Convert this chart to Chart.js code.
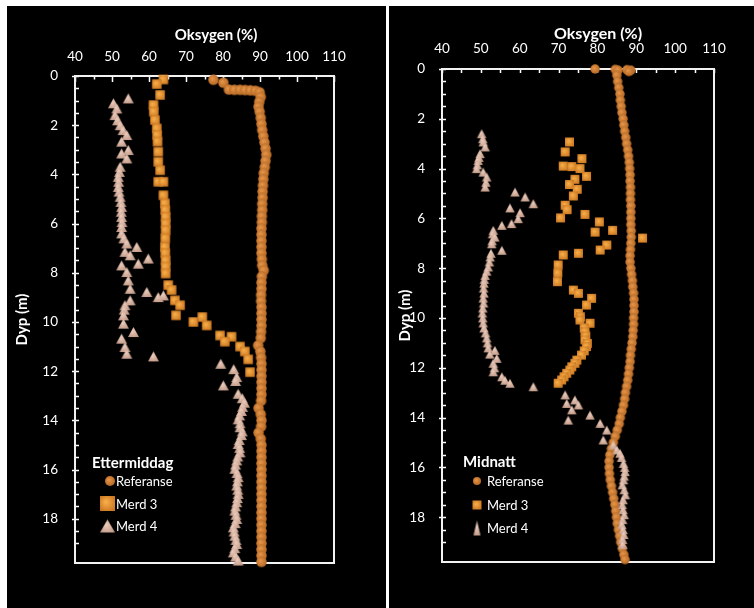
<!DOCTYPE html>
<html>
<head>
<meta charset="utf-8">
<script src="https://cdn.jsdelivr.net/npm/chart.js@4.4.1/dist/chart.umd.min.js"></script>
<style>
  html, body { margin: 0; padding: 0; background: #fff; }
  body { width: 754px; height: 608px; position: relative; overflow: hidden; }
  .panel { position: absolute; top: 6px; height: 602px; background: #000; }
  .panel canvas { display: block; }
  #left { left: 7px; width: 379px; }
  #right { left: 389px; width: 365px; }
</style>
</head>
<body>
<div class="panel" id="left"><canvas id="chartLeft" width="379" height="602"></canvas></div>
<div class="panel" id="right"><canvas id="chartRight" width="365" height="602"></canvas></div>
<script>
// Oxygen profiles, each point is [dyp (m), oksygen (%)]

// Ettermiddag
const ettRef = [
  [0.15,77.4],[0.27,80.1],[0.55,81.6],[0.56,83.1],[0.56,84.6],[0.57,86.0],[0.58,87.4],[0.6,88.8],[0.66,89.9],
  [0.85,90.2],[1.05,89.8],[1.25,89.6],[1.45,89.9],[1.7,90.2],[1.95,90.4],[2.2,90.6],[2.45,90.9],[2.7,91.2],
  [2.95,91.5],[3.2,91.7],[3.45,91.5],[3.7,91.3],[3.95,91.0],[4.2,90.9],[4.45,90.8],[4.7,90.7],[4.95,90.7],
  [5.2,90.6],[5.45,90.6],[5.7,90.5],[5.95,90.5],[6.2,90.4],[6.45,90.4],[6.7,90.4],[6.95,90.4],[7.2,90.4],
  [7.45,90.5],[7.7,90.6],[7.9,91.0],[8.15,90.5],[8.4,90.4],[8.65,90.4],[8.9,90.3],[9.15,90.3],[9.4,90.4],
  [9.65,90.4],[9.9,90.4],[10.15,90.4],[10.4,90.3],[10.65,90.2],[10.95,89.5],[11.2,90.1],[11.45,90.3],
  [11.7,90.4],[11.95,90.4],[12.2,90.4],[12.45,90.4],[12.7,90.4],[12.95,90.4],[13.2,90.3],[13.5,89.6],
  [13.75,90.2],[14.0,90.4],[14.25,90.3],[14.5,89.6],[14.75,90.2],[15.0,90.4],[15.25,90.4],[15.5,90.4],
  [15.75,90.4],[16.0,90.4],[16.25,90.4],[16.5,90.4],[16.75,90.4],[17.0,90.4],[17.25,90.4],[17.5,90.4],
  [17.75,90.4],[18.0,90.4],[18.25,90.4],[18.5,90.4],[18.75,90.4],[19.0,90.4],[19.25,90.4],[19.5,90.4],[19.75,90.4]
];
const ettM3 = [
  [0.14,63.9],[0.33,62.1],[0.77,63.0],[1.18,61.2],[1.45,61.3],[1.79,61.6],[2.13,62.1],[2.4,62.2],[2.67,62.3],
  [3.08,62.5],[3.49,62.5],[3.83,63.0],[4.3,62.5],[4.3,63.9],[4.85,63.9],[5.18,64.3],[5.45,64.4],[5.73,64.5],
  [6.0,64.5],[6.27,64.5],[6.6,64.4],[6.95,64.3],[7.2,64.4],[7.5,64.5],[7.75,64.5],[8.03,64.5],[8.5,65.2],
  [8.7,66.1],[9.12,67.0],[9.32,68.4],[9.73,67.3],[10.0,72.0],[9.8,74.4],[10.14,75.6],[10.55,79.2],[10.6,82.3],
  [10.8,80.5],[11.0,84.6],[11.2,85.9],[11.52,86.8],[12.04,87.3]
];
const ettM4 = [
  [0.91,54.4],[1.11,50.4],[1.32,51.3],[1.59,50.8],[1.8,51.5],[2.0,52.2],[2.2,53.0],[2.4,54.0],[2.67,52.6],
  [3.01,54.4],[3.15,52.6],[3.35,54.0],[3.69,52.2],[3.9,52.0],[4.1,51.7],[4.3,51.8],[4.51,51.7],[4.7,51.9],
  [4.91,52.2],[5.12,52.4],[5.32,52.6],[5.52,52.5],[5.73,52.6],[5.94,52.7],[6.14,52.6],[6.4,52.6],[6.6,53.2],
  [6.81,54.0],[6.95,56.7],[7.15,53.5],[7.29,54.9],[7.42,59.8],[7.63,57.1],[7.7,52.6],[7.97,54.0],[8.31,54.4],
  [8.65,54.9],[8.78,59.4],[8.92,63.9],[8.99,62.5],[9.12,54.9],[9.32,53.5],[9.5,53.3],[9.73,53.1],[10.07,53.1],
  [10.41,55.8],[10.68,52.6],[11.02,53.5],[11.29,54.0],[11.4,61.2],[11.7,79.4],[11.92,82.9],[12.24,83.7],
  [12.4,83.4],[12.58,80.1],[12.92,84.1],[13.1,85.2],[13.28,85.8],[13.45,85.3],[13.62,85.0],[13.8,84.5],
  [13.96,84.1],[14.12,84.6],[14.28,84.6],[14.45,85.2],[14.6,85.0],[14.8,84.4],[14.96,84.1],[15.12,84.5],
  [15.3,84.6],[15.47,84.0],[15.63,83.7],[15.8,83.4],[15.97,83.2],[16.14,83.8],[16.31,84.1],[16.48,83.9],
  [16.65,83.7],[16.82,84.0],[16.99,84.1],[17.16,83.9],[17.33,83.7],[17.5,83.4],[17.67,83.2],[17.84,83.5],
  [18.01,83.7],[18.18,83.3],[18.35,82.8],[18.52,83.0],[18.69,83.2],[18.86,83.5],[19.03,83.7],[19.2,83.2],
  [19.37,82.8],[19.54,83.4],[19.7,84.1]
];

// Midnatt
const midRef = [
  [0.0,79.4],[0.02,84.6],[0.05,85.3],[0.03,87.6],[0.05,88.6],[0.1,88.1],
  [0.25,85.0],[0.5,85.2],[0.75,85.5],[1.0,85.8],[1.25,85.9],[1.5,86.1],[1.75,86.3],[2.0,86.6],[2.25,86.8],
  [2.5,87.0],[2.75,87.3],[3.0,87.5],[3.25,87.8],[3.5,88.0],[3.75,88.2],[4.0,88.3],[4.25,88.4],[4.5,88.4],
  [4.75,88.5],[5.0,88.5],[5.25,88.5],[5.5,88.6],[5.75,88.6],[6.0,88.6],[6.25,88.6],[6.5,88.7],[6.75,88.7],
  [7.0,88.6],[7.25,88.5],[7.5,88.4],[7.75,88.4],[8.0,88.6],[8.25,88.8],[8.5,89.0],[8.75,89.1],[9.0,89.3],
  [9.25,89.4],[9.5,89.4],[9.75,89.4],[10.0,89.3],[10.25,89.3],[10.5,89.2],[10.75,89.1],[11.0,88.9],
  [11.25,88.7],[11.5,88.5],[11.75,88.4],[12.0,88.2],[12.25,88.0],[12.5,87.8],[12.75,87.5],[13.0,87.2],
  [13.25,87.0],[13.5,86.7],[13.75,86.3],[14.0,85.9],[14.25,85.6],[14.5,85.1],[14.75,84.6],[15.0,84.1],
  [15.25,83.6],[15.5,83.2],[15.75,83.0],[16.0,83.0],[16.25,83.1],[16.5,83.3],[16.75,83.6],[17.0,83.9],
  [17.25,84.2],[17.5,84.5],[17.75,84.7],[18.0,84.9],[18.25,85.1],[18.5,85.4],[18.75,85.7],[19.0,86.0],
  [19.25,86.4],[19.5,86.8],[19.7,87.1]
];
const midM3 = [
  [2.93,72.8],[3.33,71.7],[3.6,76.0],[3.9,71.2],[3.92,73.4],[4.0,75.5],[4.31,77.2],[4.43,74.2],[4.64,72.8],
  [4.83,74.8],[5.1,73.8],[5.47,71.7],[5.65,72.2],[5.84,76.8],[5.98,70.5],[6.14,80.5],[6.48,83.9],[6.55,79.4],
  [6.79,91.6],[7.07,82.4],[7.27,80.7],[7.4,75.1],[7.47,71.2],[7.87,69.9],[8.2,69.8],[8.54,69.7],[8.88,73.8],
  [9.01,75.1],[9.21,78.5],[9.48,77.2],[9.81,75.1],[9.95,75.6],[10.08,75.5],[10.21,78.1],[10.4,76.6],
  [10.55,76.8],[10.72,77.0],[10.88,76.8],[11.02,77.4],[11.15,77.2],[11.32,76.6],[11.49,75.9],[11.69,74.7],
  [11.82,74.2],[11.96,73.4],[12.09,72.9],[12.22,72.1],[12.36,71.4],[12.49,70.8],[12.62,69.9]
];
const midM4 = [
  [2.6,50.2],[2.8,50.5],[2.93,50.6],[3.13,51.1],[3.4,49.8],[3.55,49.5],[3.67,49.3],[3.85,49.1],[4.0,48.9],
  [4.14,50.6],[4.34,51.5],[4.55,51.3],[4.74,51.1],[4.94,58.8],[5.14,61.4],[5.41,63.5],[5.58,57.5],[5.77,60.1],
  [6.01,59.6],[6.21,57.9],[6.28,55.4],[6.48,53.2],[6.62,53.0],[6.75,53.6],[6.9,52.9],[7.02,52.8],[7.28,55.4],
  [7.4,52.6],[7.55,52.4],[7.75,52.2],[7.95,51.9],[8.12,51.5],[8.29,51.1],[8.45,50.9],[8.6,50.8],[8.8,50.7],
  [9.0,50.8],[9.2,50.6],[9.4,50.7],[9.6,50.5],[9.8,50.4],[10.0,50.5],[10.2,50.6],[10.4,50.8],[10.6,51.2],
  [10.8,51.5],[11.0,51.7],[11.2,51.9],[11.3,53.6],[11.45,52.3],[11.62,54.1],[11.82,53.2],[12.0,53.5],
  [12.16,53.2],[12.36,55.4],[12.5,56.2],[12.62,57.5],[12.76,63.5],[13.09,71.7],[13.29,74.2],[13.43,72.1],
  [13.49,75.1],[13.69,73.4],[13.9,78.1],[14.1,72.5],[14.23,80.7],[14.5,82.4],[14.9,81.5],[15.1,84.1],
  [15.3,85.0],[15.43,85.8],[15.6,86.2],[15.84,86.7],[16.0,87.0],[16.17,87.1],[16.35,86.9],[16.5,86.7],
  [16.7,86.4],[16.9,86.9],[17.1,87.2],[17.3,86.6],[17.5,86.4],[17.7,86.6],[17.9,86.9],[18.1,86.5],[18.3,86.3],
  [18.5,86.6],[18.7,86.8],[18.9,86.5],[19.1,86.5]
];

const xTicks = { min: 40, max: 110, step: 5, labelEvery: 10 };
const yTicks = { min: 0, max: 19.8, step: 0.5, labelEvery: 2 };

Chart.defaults.font.family = 'Lato, "Open Sans", sans-serif';
Chart.defaults.color = '#fff';

// shaded marker sprites with soft edges, used as point styles
function makeMarker(shape, w, h, light, dark) {
  const c = document.createElement('canvas');
  c.width = Math.ceil(w) + 4;
  c.height = Math.ceil(h) + 4;
  const g = c.getContext('2d');
  const cx = c.width / 2, cy = c.height / 2;
  const grad = g.createRadialGradient(cx - w * 0.12, cy - h * 0.12, 0, cx, cy, Math.max(w, h) * 0.7);
  grad.addColorStop(0, light);
  grad.addColorStop(1, dark);
  g.filter = 'blur(0.5px)';
  g.fillStyle = grad;
  g.beginPath();
  if (shape === 'circle') {
    g.arc(cx, cy, w / 2, 0, Math.PI * 2);
  } else if (shape === 'rect') {
    g.rect(cx - w / 2, cy - h / 2, w, h);
  } else {
    g.moveTo(cx, cy - h / 2);
    g.lineTo(cx + w / 2, cy + h / 2);
    g.lineTo(cx - w / 2, cy + h / 2);
    g.closePath();
  }
  g.fill();
  return c;
}

const COL = {
  ref: ['#e8984a', '#a65a1a'],
  m3: ['#fbb24a', '#c46e1c'],
  m4: ['#efcfbf', '#b48c7a']
};

// axis frame, inward tick marks, top axis caption and the legend box
const panelDecor = {
  id: 'panelDecor',
  beforeDatasetsDraw(chart, args, opts) {
    const { ctx, chartArea: a, scales } = chart;
    ctx.save();
    ctx.strokeStyle = '#fff';
    ctx.lineWidth = 1.5;
    ctx.beginPath();
    scales.x.ticks.forEach(t => {
      const px = Math.round(scales.x.getPixelForValue(t.value)) + 0.5;
      const len = t.value % xTicks.labelEvery === 0 ? opts.majorX : opts.minorX;
      ctx.moveTo(px, a.top);
      ctx.lineTo(px, a.top + len);
    });
    scales.y.ticks.forEach(t => {
      if (t.value > yTicks.max - 0.3) return;
      const py = Math.round(scales.y.getPixelForValue(t.value)) + 0.5;
      const major = t.value % yTicks.labelEvery === 0;
      ctx.moveTo(a.left - (major ? 3 : 0), py);
      ctx.lineTo(a.left + 4, py);
    });
    ctx.stroke();
    ctx.lineWidth = 2;
    ctx.strokeStyle = '#f2f2f2';
    ctx.strokeRect(a.left, a.top, a.right - a.left, a.bottom - a.top);

    ctx.fillStyle = '#fff';
    ctx.font = 'bold ' + opts.titleSize + 'px Lato';
    ctx.textAlign = 'center';
    ctx.textBaseline = 'middle';
    ctx.fillText('Oksygen (%)', opts.titleX, opts.titleY);
    ctx.restore();
  },
  afterDraw(chart, args, opts) {
    const { ctx, chartArea: a } = chart;
    const lg = opts.legend;
    ctx.save();
    ctx.fillStyle = '#fff';
    ctx.textBaseline = 'middle';
    ctx.textAlign = 'left';
    ctx.font = 'bold 15px Lato';
    ctx.fillText(lg.title, a.left + lg.titleDx, a.top + lg.titleDy);
    ctx.font = '13px Lato';
    lg.items.forEach(it => {
      const m = it.marker;
      ctx.drawImage(m, a.left + it.mx - m.width / 2, a.top + it.dy - m.height / 2);
      ctx.fillText(it.label, a.left + lg.textDx, a.top + it.dy + 1);
    });
    ctx.restore();
  }
};

function profileChart(id, title, series, markers, geom) {
  const names = ['Referanse', 'Merd 3', 'Merd 4'];
  const datasets = series.map((s, i) => ({
    label: names[i],
    data: s.map(p => ({ x: p[1], y: p[0] })),
    pointStyle: markers[i],
    pointRadius: 5,
    clip: false,
    order: 2 - i
  }));
  return new Chart(document.getElementById(id), {
    type: 'scatter',
    data: { datasets },
    plugins: [panelDecor],
    options: {
      responsive: false,
      animation: false,
      events: [],
      layout: { padding: { left: 0, top: 0, right: geom.padRight, bottom: geom.padBottom } },
      plugins: {
        legend: { display: false },
        tooltip: { enabled: false },
        panelDecor: {
          titleX: geom.titleX, titleY: geom.titleY, titleSize: geom.titleSize,
          majorX: geom.majorX, minorX: geom.minorX,
          legend: {
            title: title,
            titleDx: geom.legend.titleDx, titleDy: geom.legend.titleDy, textDx: geom.legend.textDx,
            items: names.map((n, i) => ({
              label: n, marker: geom.legend.markers[i],
              mx: geom.legend.markerDx[i], dy: geom.legend.dy[i]
            }))
          }
        }
      },
      scales: {
        x: {
          type: 'linear',
          position: 'top',
          min: xTicks.min,
          max: xTicks.max,
          grid: { display: false, drawTicks: false },
          border: { display: false },
          afterFit: s => { s.height = geom.top; },
          ticks: {
            stepSize: xTicks.step,
            autoSkip: false,
            maxRotation: 0,
            padding: geom.xPad,
            font: { size: 13.5 },
            callback: v => (v % xTicks.labelEvery === 0 ? String(v) : '')
          }
        },
        y: {
          type: 'linear',
          reverse: true,
          min: yTicks.min,
          max: yTicks.max,
          grid: { display: false, drawTicks: false },
          border: { display: false },
          afterFit: s => { s.width = geom.left; },
          title: {
            display: true,
            text: 'Dyp (m)',
            font: { size: 15, weight: 'bold' },
            padding: { top: geom.yTitlePad, bottom: 0 }
          },
          ticks: {
            stepSize: yTicks.step,
            autoSkip: false,
            padding: 17,
            font: { size: 13.5 },
            callback: v => (v % yTicks.labelEvery === 0 ? String(v) : '')
          }
        }
      }
    }
  });
}

profileChart('chartLeft', 'Ettermiddag', [ettRef, ettM3, ettM4], [
  makeMarker('circle', 10.5, 10.5, COL.ref[0], COL.ref[1]),
  makeMarker('rect', 9.5, 9.5, COL.m3[0], COL.m3[1]),
  makeMarker('tri', 11, 10, COL.m4[0], COL.m4[1])
], {
  left: 68, top: 70, padRight: 52, padBottom: 45,
  xPad: 11.5, yTitlePad: 6,
  titleX: 209, titleY: 29, titleSize: 15,
  majorX: 6, minorX: 3.5,
  legend: {
    titleDx: 17, titleDy: 387, textDx: 41,
    markerDx: [35, 32.5, 32.5], dy: [405, 427.5, 450],
    markers: [
      makeMarker('circle', 10, 10, COL.ref[0], COL.ref[1]),
      makeMarker('rect', 15, 15, COL.m3[0], COL.m3[1]),
      makeMarker('tri', 15, 13, COL.m4[0], COL.m4[1])
    ]
  }
});

profileChart('chartRight', 'Midnatt', [midRef, midM3, midM4], [
  makeMarker('circle', 9.5, 9.5, COL.ref[0], COL.ref[1]),
  makeMarker('rect', 9, 9, COL.m3[0], COL.m3[1]),
  makeMarker('tri', 9.5, 9, COL.m4[0], COL.m4[1])
], {
  left: 53, top: 63, padRight: 40, padBottom: 46,
  xPad: 12, yTitlePad: 7,
  titleX: 209, titleY: 27.5, titleSize: 16,
  majorX: 4, minorX: 4,
  legend: {
    titleDx: 21, titleDy: 393, textDx: 45,
    markerDx: [35, 35, 35], dy: [412, 436, 459],
    markers: [
      makeMarker('circle', 8, 8, COL.ref[0], COL.ref[1]),
      makeMarker('rect', 9, 9, COL.m3[0], COL.m3[1]),
      makeMarker('tri', 7, 15, COL.m4[0], COL.m4[1])
    ]
  }
});
</script>
</body>
</html>
